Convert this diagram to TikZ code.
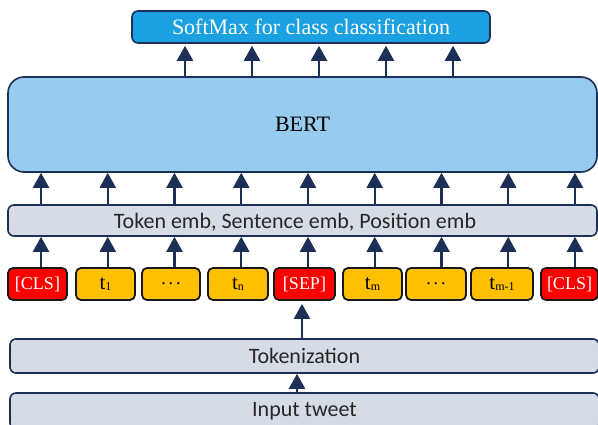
\documentclass[tikz,border=0pt]{standalone}
\usepackage{fontspec}
\setmainfont{Liberation Serif}
\setsansfont{Carlito}
\usetikzlibrary{arrows.meta}
\definecolor{navy}{HTML}{1C2F56}
\definecolor{softblue}{HTML}{1BA1E2}
\definecolor{bertblue}{HTML}{97CBF0}
\definecolor{layergray}{HTML}{D6DCE5}
\definecolor{clsred}{HTML}{FF0000}
\definecolor{tokyellow}{HTML}{FFC000}
\newcommand{\tsub}[1]{{\fontsize{21}{22}\selectfont t}{\fontsize{12}{13}\selectfont\raisebox{-1pt}{#1}}}
\begin{document}
\begin{tikzpicture}[x=1pt,y=-1pt,>={Triangle[width=16pt,length=15pt]},
  up/.style={->,draw=navy,line width=2.2pt},
  layer/.style={draw=navy,line width=1.6pt,fill=layergray,rounded corners=6pt,inner sep=0pt,
    text=black!85,font=\sffamily\fontsize{22}{24}\selectfont},
  tok/.style={draw=black!90,line width=1.8pt,rounded corners=5pt,inner sep=0pt,
    minimum width=59,minimum height=32,font=\fontsize{18}{20}\selectfont},
  cls/.style={tok,fill=clsred,text=white},
  word/.style={tok,fill=tokyellow,text=black}]
\clip (0,0) rectangle (598,425);

\node[layer,fill=softblue,text=white,font=\fontsize{22}{24}\selectfont,minimum width=358,minimum height=32] (soft) at (311,27) {SoftMax for class classification};
\node[layer,fill=bertblue,text=black,rounded corners=16pt,font=\fontsize{22}{24}\selectfont,minimum width=589,minimum height=95] (bert) at (302.5,124.5) {BERT};
\node[layer,minimum width=589,minimum height=31,text depth=0pt] (emb) at (302.5,220.5) {\hspace*{-15pt}Token emb, Sentence emb, Position emb};

\node[cls] (tk1) at (37.5,284) {[CLS]};
\node[word] (tk2) at (105.5,284) {\tsub{1}};
\node[word,minimum width=58] (tk3) at (171,284) {.\,.\,.};
\node[word,minimum width=60] (tk4) at (238,284) {\tsub{n}};
\node[cls,minimum width=61] (tk5) at (304.5,284) {[SEP]};
\node[word] (tk6) at (372.5,284) {\tsub{m}};
\node[word,minimum width=60] (tk7) at (436,284) {.\,.\,.};
\node[word,minimum width=62] (tk8) at (502,284) {\tsub{m-1}};
\node[cls,minimum width=57] (tk9) at (569.5,284) {[CLS]};

\node[layer,minimum width=589,minimum height=34] (tokz) at (304.5,356) {Tokenization};
\node[layer,minimum width=589,minimum height=36] (input) at (304.5,411) {Input tweet};

\foreach \i in {1,...,9} {
  \coordinate (col\i) at ({41+66.75*(\i-1)},0);
  \draw[up] (tk\i.north -| col\i) -- (emb.south -| col\i);
  \draw[up] (emb.north -| col\i) -- (bert.south -| col\i);
}
\foreach \k in {0,...,4} {
  \coordinate (top\k) at ({185+67*\k},0);
  \draw[up,shorten >=2pt] (bert.north -| top\k) -- (soft.south -| top\k);
}
\draw[up,shorten >=3pt] (tokz.north -| 302,0) -- (tk5.south -| 302,0);
\draw[up] (input.north -| 297,0) -- (tokz.south -| 297,0);
\end{tikzpicture}
\end{document}
